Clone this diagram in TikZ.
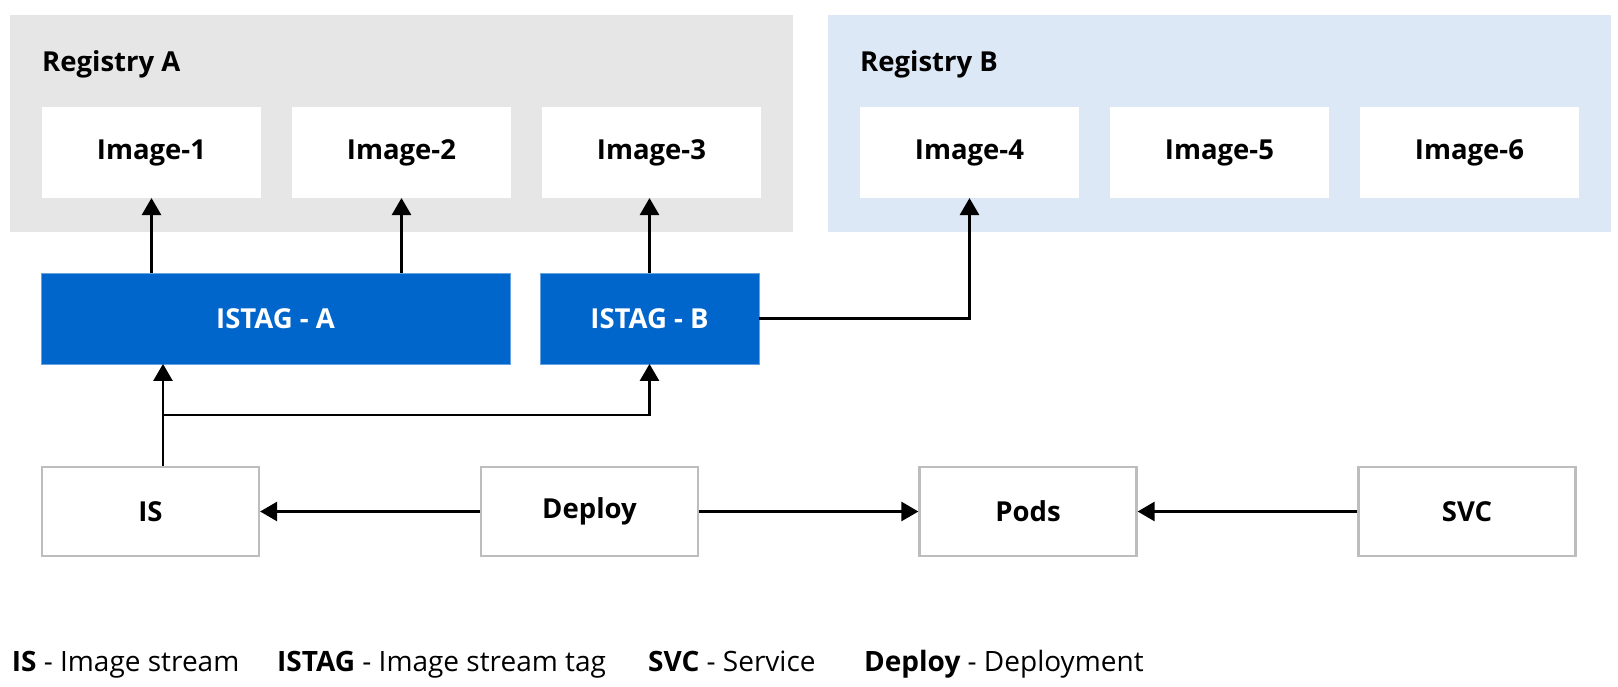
\documentclass[tikz,border=0pt]{standalone}
\usepackage{fontspec}
\setmainfont{Open Sans}
\usetikzlibrary{arrows.meta}
\definecolor{regA}{HTML}{E6E6E6}
\definecolor{regB}{HTML}{DCE8F5}
\definecolor{rhblue}{HTML}{0066CC}
\definecolor{boxgray}{HTML}{BDBDBD}
\tikzset{
  region/.style={fill=#1, draw=none},
  imgbox/.style={fill=white, draw=none, minimum width=219pt, minimum height=91pt, inner sep=0pt, outer sep=0pt,
    font=\fontsize{27.5}{30}\selectfont\bfseries},
  tagbox/.style={fill=rhblue, draw=rhblue!60!white, line width=0.8pt, minimum height=91pt, inner sep=0pt, outer sep=0pt,
    text=white, font=\fontsize{27.5}{30}\selectfont\bfseries},
  objbox/.style={fill=white, draw=boxgray, line width=2.2pt, minimum width=217pt, minimum height=89pt, inner sep=0pt, outer sep=1.1pt,
    font=\fontsize{27.5}{30}\selectfont\bfseries},
  reglabel/.style={anchor=base west, inner sep=0pt, font=\fontsize{27.5}{30}\selectfont\bfseries},
  legend/.style={anchor=base west, inner sep=0pt, font=\fontsize{28}{30}\selectfont},
  arr/.style={draw=black, line width=2.6pt, -{Triangle[width=19pt,length=17pt]}},
}
\begin{document}
\begin{tikzpicture}[x=1pt,y=-1pt]
\useasboundingbox (0,0) rectangle (1618,686);
% registries
\fill[region=regA] (10,15) rectangle (793,232);
\fill[region=regB] (828,15) rectangle (1611,232);
\node[reglabel] (regAl) at (42,71) {Registry A};
\node[reglabel] (regBl) at (860,71) {Registry B};
% images
\node[imgbox] (img1) at (151.5,152.5) {Image-1};
\node[imgbox] (img2) at (401.5,152.5) {Image-2};
\node[imgbox] (img3) at (651.5,152.5) {Image-3};
\node[imgbox] (img4) at (969.5,152.5) {Image-4};
\node[imgbox] (img5) at (1219.5,152.5) {Image-5};
\node[imgbox] (img6) at (1469.5,152.5) {Image-6};
% istags
\node[tagbox, minimum width=469pt] (tagA) at (275.5,318.4) {ISTAG - A};
\node[tagbox, minimum width=219pt] (tagB) at (649.5,318.4) {ISTAG - B};
% bottom objects
\node[objbox] (is) at (150.5,511.5) {IS};
\node[objbox] (dep) at (589.5,511.5) {Deploy};
\node[objbox] (pods) at (1028,511.5) {Pods};
\node[objbox] (svc) at (1467,511.5) {SVC};
% connectors
\draw[arr] (tagA.north -| img1.south) -- (img1.south);
\draw[arr] (tagA.north -| img2.south) -- (img2.south);
\draw[arr] (tagB.north) -- (tagB.north |- img3.south);
\draw[arr] (tagB.east) -| (img4.south);
\coordinate (isx) at (163,466);
\coordinate (br) at (163,415);
\draw[arr] (is.north -| isx) -- (tagA.south -| isx);
\draw[arr] (br) -| (tagB.south);
\draw[arr] (dep.west) -- (is.east);
\draw[arr] (dep.east) -- (pods.west);
\draw[arr] (svc.west) -- (pods.east);
% legend
\node[legend] (lg1) at (11.7,671) {\textbf{IS} - Image stream};
\node[legend] (lg2) at (277,671) {\textbf{ISTAG} - Image stream tag};
\node[legend] (lg3) at (648,671) {\textbf{SVC} - Service};
\node[legend] (lg4) at (864,671) {\textbf{Deploy} - Deployment};
\end{tikzpicture}
\end{document}
